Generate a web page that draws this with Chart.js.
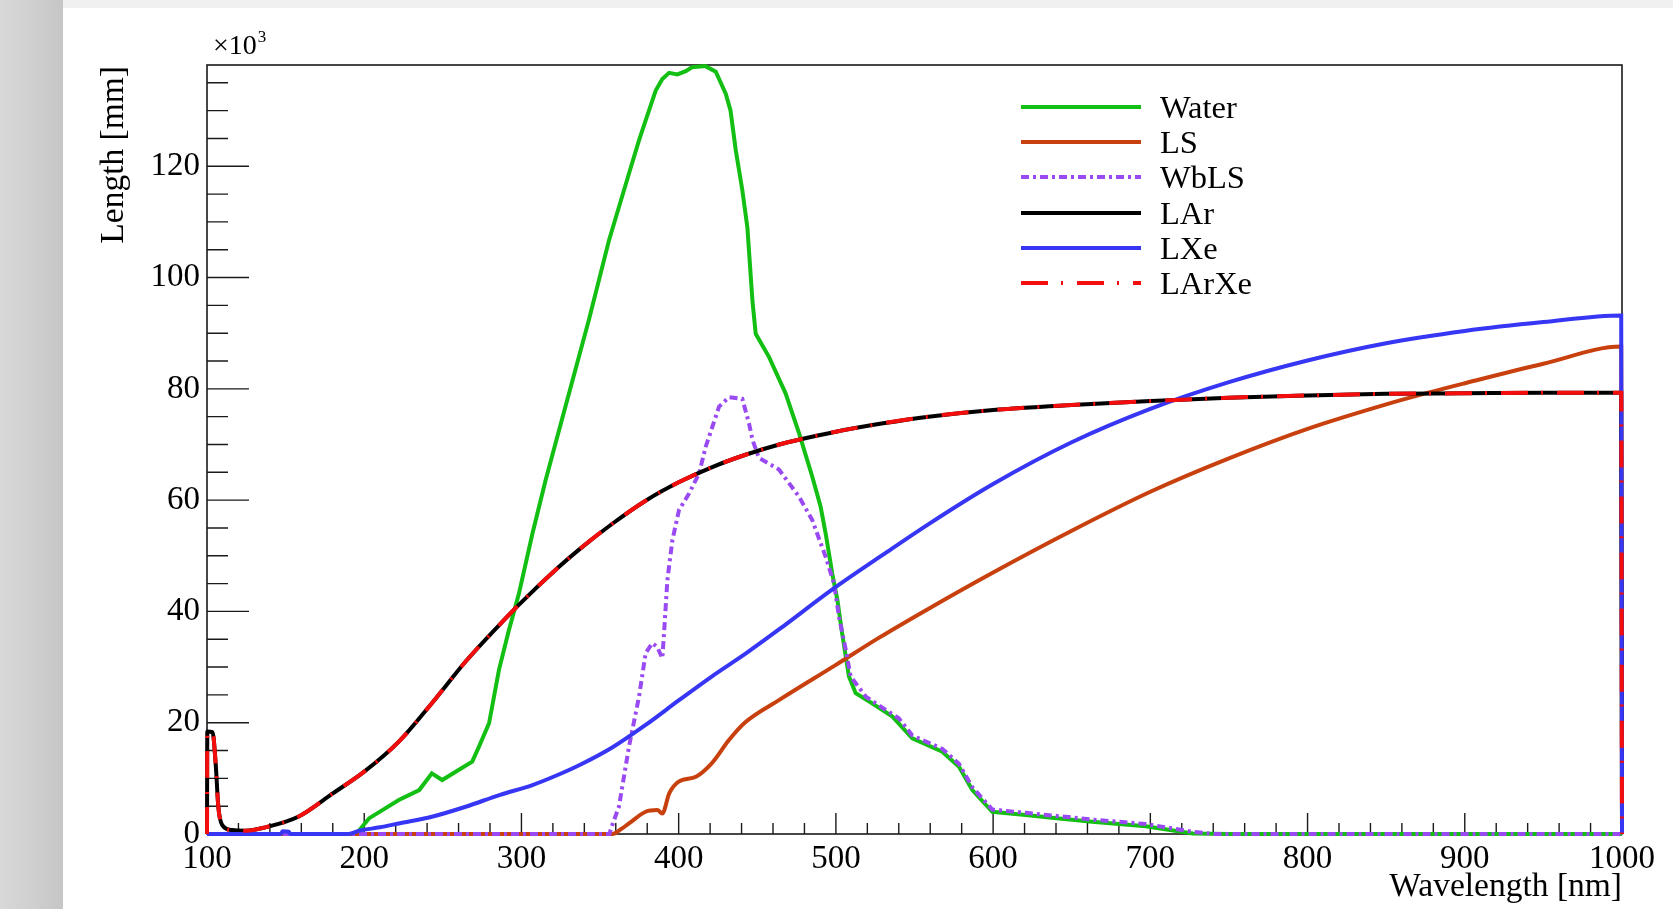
<!DOCTYPE html>
<html>
<head>
<meta charset="utf-8">
<title>Attenuation length</title>
<script src="https://cdn.jsdelivr.net/npm/chart.js@4.4.0/dist/chart.umd.min.js"></script>
<style>
  html, body { margin: 0; padding: 0; overflow: hidden; }
  body {
    width: 1673px; height: 909px; position: relative;
    background: linear-gradient(to right, #d8d8d8 0px, #d0d0d0 30px, #c6c6c6 63px, #c6c6c6 100%);
  }
  #paper {
    position: absolute; left: 63px; top: 0; right: 0; bottom: 0;
    background: linear-gradient(to bottom, #f0f0f0 0px, #f0f0f0 8px, #ffffff 8px);
  }
  #lengthChart { position: absolute; left: 0; top: 0; }
</style>
</head>
<body>
<div id="paper"></div>
<canvas id="lengthChart" width="1673" height="909"></canvas>
<script>
// values, length in units of 10^3 mm
const waterNm = [100, 196, 197, 203, 222, 235, 243, 249.6, 260, 268.7, 273, 279.4, 285.7, 292, 298.4, 307, 315.4, 322.8, 331.3, 343,
  355.7, 368.4, 374.8, 381.1, 385.4, 389.6, 393.9, 399.2, 404.5, 408.5, 417, 423.6, 430, 433, 436.3, 440.5, 443.7, 446.9, 449, 457.5,
  468, 476.6, 485, 490.3, 493.5, 497.7, 501, 504, 508.3, 512.6, 523, 536, 548.6, 567.7, 578.3, 586.8, 599.5, 620.7, 642, 663,
  697, 727, 750, 1000];
const waterLen = [0, 0, 0.7, 2.8, 6.1, 7.9, 10.9, 9.7, 11.5, 13.0, 15.7, 19.9, 29.5, 36.6, 43.2, 54.0, 63.6, 71.4, 80.3, 92.5,
  106.7, 118.7, 124.7, 130.0, 133.6, 135.7, 136.8, 136.5, 137.1, 137.8, 138.0, 137.0, 133.0, 130.0, 122.9, 115.7, 109.0, 95.9, 89.9, 85.7,
  79.2, 72.0, 64.2, 58.8, 54.0, 46.8, 42.0, 36.0, 28.3, 25.3, 23.5, 21.1, 17.2, 14.8, 12.1, 7.9, 4.0, 3.4, 2.8, 2.2,
  1.4, 0.1, 0, 0];

const lsNm = [100, 358, 363, 368.4, 379, 386.4, 389.6, 394, 400, 411, 421, 432, 442, 464, 500, 527, 559, 600, 650, 700,
  750, 800, 850, 878, 900, 950, 999.5, 1000];
const lsLen = [0, 0, 0.8, 1.9, 4.0, 4.3, 3.7, 7.3, 9.4, 10.3, 12.7, 16.9, 20.0, 24.1, 30.4, 35.2, 40.5, 47.0, 54.5, 61.5,
  67.5, 72.8, 77.2, 79.4, 81.0, 84.5, 87.6, 0];

const wblsNm = [100, 356, 357, 362, 368.4, 374.8, 379, 383.2, 386.4, 389.6, 390.7, 392.8, 396, 400.2, 406.6, 413, 417.2, 425.7, 432, 440.5,
  444.7, 447, 451, 463.8, 476.6, 485, 493.5, 498.8, 502, 506.3, 509.4, 519, 531.7, 540, 548.6, 567.7, 578.3, 586.8, 599.5, 620.7,
  642, 663, 697, 727, 740, 1000];
const wblsLen = [0, 0, 1.0, 4.9, 15.7, 24.7, 32.5, 34.3, 33.6, 31.6, 36.1, 45.6, 52.8, 58.2, 61.2, 64.8, 69.6, 76.8, 78.5, 78.2,
  73.8, 70.8, 67.6, 65.5, 60.6, 56.4, 49.8, 45.0, 39.0, 33.1, 28.3, 24.7, 22.3, 20.8, 17.7, 15.3, 12.6, 8.4, 4.4, 3.8,
  3.2, 2.6, 1.8, 0.4, 0, 0];

// LAr and LArXe lie on top of each other
const larNm = [100, 100.2, 103.5, 105.5, 107.2, 109.7, 116, 124.6, 137, 158, 180, 200, 222, 243, 264.5, 286, 298, 323, 337, 358,
  379, 400, 421, 443, 464, 477, 500, 530, 559, 600, 650, 700, 750, 800, 850, 900, 950, 999.5, 1000];
const larLen = [0, 18.4, 18.3, 12.7, 4.9, 1.6, 0.7, 0.6, 1.2, 3.1, 7.3, 11.2, 16.6, 23.5, 31.0, 37.6, 41.1, 47.8, 51.2, 55.8,
  59.9, 63.2, 65.9, 68.2, 70.0, 70.9, 72.3, 73.8, 75.0, 76.2, 77.1, 77.8, 78.4, 78.8, 79.1, 79.2, 79.3, 79.3, 0];

const lxeNm = [100, 147, 148, 152, 153, 190, 197, 210, 222, 243, 264.5, 286, 307, 323, 337, 358, 379, 400, 421, 443,
  464, 498, 530, 559, 600, 650, 700, 750, 800, 850, 900, 950, 999.5, 1000];
const lxeLen = [0, 0, 0.5, 0.4, 0, 0, 0.6, 1.2, 1.9, 3.1, 4.9, 7.0, 8.8, 10.6, 12.4, 15.6, 19.6, 24.0, 28.3, 32.5,
  36.8, 44.0, 50.2, 55.7, 62.9, 70.4, 76.4, 81.2, 85.1, 88.2, 90.4, 92.0, 93.2, 0];

const xTicks = [100, 200, 300, 400, 500, 600, 700, 800, 900, 1000];
const yTicks = [0, 20, 40, 60, 80, 100, 120];

const FONT = '"Liberation Serif", "DejaVu Serif", serif';

function pts(nm, len) {
    return nm.map((v, i) => ({ x: v, y: len[i] }));
}

function series(label, nm, len, color, dash, order, smooth) {
    return {
        label: label,
        data: pts(nm, len),
        borderColor: color,
        backgroundColor: color,
        borderWidth: 4,
        borderDash: dash,
        pointRadius: 0,
        tension: smooth ? 0.4 : 0,
        cubicInterpolationMode: smooth ? 'monotone' : 'default',
        fill: false,
        clip: 6,
        order: order
    };
}

// ROOT style frame with ticks on the inside
const rootFrame = {
    id: 'rootFrame',
    beforeDatasetsDraw(chart) {
        const { ctx, chartArea: a, scales: { x, y } } = chart;
        ctx.save();
        ctx.strokeStyle = '#1a1a1a';
        ctx.lineWidth = 1.6;
        ctx.strokeRect(a.left, a.top, a.right - a.left, a.bottom - a.top);
        ctx.lineWidth = 1.4;
        ctx.beginPath();
        for (let v = 100; v <= 1000; v += 20) {
            const px = x.getPixelForValue(v);
            const len = v % 100 === 0 ? 21 : 11;
            ctx.moveTo(px, a.bottom);
            ctx.lineTo(px, a.bottom - len);
        }
        for (let v = 0; v <= 135; v += 5) {
            const py = y.getPixelForValue(v);
            const len = v % 20 === 0 ? 42 : 21;
            ctx.moveTo(a.left, py);
            ctx.lineTo(a.left + len, py);
        }
        ctx.stroke();
        ctx.restore();
    },
    afterDraw(chart) {
        const { ctx, chartArea: a } = chart;
        ctx.save();
        ctx.fillStyle = '#000';
        // axis titles
        ctx.font = '33.5px ' + FONT;
        ctx.textAlign = 'right';
        ctx.textBaseline = 'alphabetic';
        ctx.fillText('Wavelength [nm]', a.right, 896);
        ctx.save();
        ctx.translate(123, a.top + 1);
        ctx.rotate(-Math.PI / 2);
        ctx.fillText('Length [mm]', 0, 0);
        ctx.restore();
        // exponent
        ctx.textAlign = 'left';
        ctx.font = '28px ' + FONT;
        ctx.fillText('\u00d710', 213, 54);
        const w = ctx.measureText('\u00d710').width;
        ctx.font = '17px ' + FONT;
        ctx.fillText('3', 213 + w + 1, 42);

        // legend
        const rowY = [107, 142, 177, 213, 248, 283];
        chart.data.datasets.forEach((ds, i) => {
            const yy = rowY[i];
            ctx.strokeStyle = ds.borderColor;
            ctx.lineWidth = 4;
            ctx.setLineDash(ds.borderDash || []);
            ctx.beginPath();
            ctx.moveTo(1021, yy);
            ctx.lineTo(1141, yy);
            ctx.stroke();
            ctx.setLineDash([]);
            ctx.font = '32.5px ' + FONT;
            ctx.fillStyle = '#000';
            ctx.fillText(ds.label, 1160, yy + 11);
        });
        ctx.restore();
    }
};

new Chart(document.getElementById('lengthChart'), {
    type: 'line',
    data: {
        datasets: [
            series('Water', waterNm, waterLen, '#12bf12', [], 6, false),
            series('LS', lsNm, lsLen, '#c8400e', [], 5, true),
            series('WbLS', wblsNm, wblsLen, '#9a4af2', [8, 4, 3, 4], 4, false),
            series('LAr', larNm, larLen, '#000000', [], 3, true),
            series('LXe', lxeNm, lxeLen, '#3636f4', [], 2, true),
            series('LArXe', larNm, larLen, '#f40d0d', [27, 13, 2, 14], 1, true)
        ]
    },
    options: {
        responsive: false,
        animation: false,
        devicePixelRatio: 1,
        layout: { padding: { top: 65, right: 51, left: 0, bottom: 0 } },
        plugins: {
            legend: { display: false },
            tooltip: { enabled: false }
        },
        scales: {
            x: {
                type: 'linear',
                min: 100,
                max: 1000,
                afterBuildTicks: s => { s.ticks = xTicks.map(v => ({ value: v })); },
                afterFit: s => { s.height = 75; },
                grid: { display: false, drawTicks: false },
                border: { display: false },
                ticks: {
                    autoSkip: false,
                    maxRotation: 0,
                    padding: 6,
                    color: '#000',
                    font: { family: FONT, size: 33 },
                    callback: v => String(v)
                }
            },
            y: {
                type: 'linear',
                min: 0,
                max: 138.2,
                afterBuildTicks: s => { s.ticks = yTicks.map(v => ({ value: v })); },
                afterFit: s => { s.width = 207; },
                grid: { display: false, drawTicks: false },
                border: { display: false },
                ticks: {
                    padding: 7,
                    color: '#000',
                    font: { family: FONT, size: 33 },
                    callback: v => String(v)
                }
            }
        }
    },
    plugins: [rootFrame]
});
</script>
</body>
</html>
